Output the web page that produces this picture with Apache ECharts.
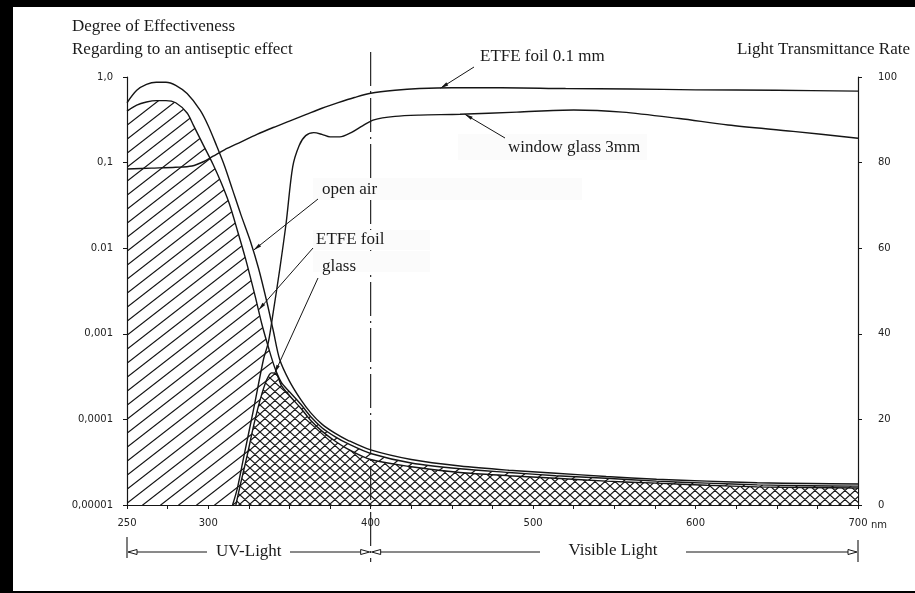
<!DOCTYPE html>
<html><head><meta charset="utf-8">
<script src="https://cdn.jsdelivr.net/npm/echarts@6/dist/echarts.min.js"></script>
<style>html,body{margin:0;padding:0;background:#fff}#c{width:915px;height:593px}</style>
</head><body><div id="c"></div>
<script>
// ---- data (wavelength in nm) ----
const xLabelTicks = [250, 300, 400, 500, 600, 700];
const leftTickLabels = ['0,00001', '0,0001', '0,001', '0.01', '0,1', '1,0']; // 1e-5 .. 1
const rightTicks = [0, 20, 40, 60, 80, 100];

// Degree of effectiveness (left, log axis)
const openAirNm  = [250,256,262,268,274,280,287,295,300,305,310,315,320,326,331,336,340,344,350,357,363,370,378,386,400,425,455,485,514,545,576,607,638,670,700];
const openAirEff = [0.50,0.70,0.82,0.87,0.87,0.80,0.64,0.41,0.27,0.16,0.092,0.048,0.025,0.012,0.0058,0.0024,0.0011,0.0005,0.00028,0.00017,0.00012,0.000088,0.000069,0.000057,0.000044,0.000034,0.0000285,0.0000255,0.0000235,0.0000215,0.00002,0.000019,0.0000182,0.0000178,0.0000176];

const etfeNm  = [250,256,262,268,274,280,287,291,297,303,308,313,318,323,329,333,337,341,345,350,357,363,370,378,386,400,425,455,485,514,545,576,607,638,670,700];
const etfeEff = [0.40,0.47,0.51,0.53,0.53,0.50,0.38,0.27,0.16,0.095,0.058,0.033,0.016,0.0075,0.0027,0.0013,0.0007,0.0004,0.00027,0.00021,0.00015,0.000108,0.00008,0.000063,0.000052,0.00004,0.000031,0.0000265,0.000024,0.000022,0.0000205,0.000019,0.000018,0.0000172,0.0000168,0.0000166];

const glassNm  = [317,320,324,328,332,336,339,342,345,350,357,363,370,378,386,400,425,455,485,514,545,576,607,638,670,700];
const glassEff = [0.00001,0.000018,0.000038,0.000085,0.00017,0.00029,0.00035,0.00034,0.00025,0.00019,0.000135,0.000098,0.000073,0.000056,0.000045,0.000034,0.000028,0.000024,0.000022,0.0000205,0.000019,0.000018,0.000017,0.0000163,0.000016,0.0000158];

// Light transmittance rate (right axis, %)
const etfeTransNm = [250,265,280,290,297,303,310,320,330,340,350,360,370,380,390,400,415,430,450,480,520,560,600,650,700];
const etfeTrans   = [78.5,78.7,78.9,79.2,80.2,81.5,83,84.8,86.6,88.2,89.7,91.2,92.7,94.0,95.2,96.2,96.9,97.3,97.5,97.5,97.3,97.2,97.0,96.9,96.7];

const windowNm    = [315,318,322,328,334,337,340,344,348,352,356,360,365,370,375,381,388,395,402,415,430,455,490,525,555,590,620,660,700];
const windowTrans = [0,4,11.5,22.5,34,38,45,55,66,79,84,86.3,87,86.6,86,86,87,88.6,90,90.8,91.1,91.3,91.8,92.3,91.8,90.3,88.8,87.3,85.7];

const zip = (a, b) => a.map((v, i) => [v, b[i]]);

function hatch(w, h, dirs, bg, lw) {
  const c = document.createElement('canvas');
  c.width = w; c.height = h;
  const g = c.getContext('2d');
  if (bg) { g.fillStyle = bg; g.fillRect(0, 0, w, h); }
  g.strokeStyle = '#151515'; g.lineWidth = lw || 1.1;
  g.beginPath();
  for (let i = -1; i <= 1; i++) for (let j = -1; j <= 1; j++) {
    if (dirs.indexOf('/') >= 0) { g.moveTo(i * w, h + j * h); g.lineTo(w + i * w, j * h); }
    if (dirs.indexOf('\\') >= 0) { g.moveTo(i * w, j * h); g.lineTo(w + i * w, h + j * h); }
  }
  g.stroke();
  return c;
}

const chart = echarts.init(document.getElementById('c'), null, { renderer: 'canvas' });
const INK = '#151515';
const lineBase = { type: 'line', symbol: 'none', smooth: 0.3, silent: true, z: 5,
  lineStyle: { color: INK, width: 1.4 } };

chart.setOption({
  animation: false,
  backgroundColor: '#fff',
  grid: { left: 127, right: 57, top: 77, bottom: 88, outerBoundsMode: 'none', containLabel: false },
  xAxis: {
    type: 'value', min: 250, max: 700, interval: 25,
    axisLine: { show: true, lineStyle: { color: INK, width: 1.2 } },
    axisTick: { show: true, length: 4, lineStyle: { color: INK } },
    splitLine: { show: false },
    axisLabel: { margin: 13, fontFamily: 'DejaVu Sans', fontSize: 10, color: '#222',
      formatter: v => xLabelTicks.indexOf(v) >= 0 ? String(v) : '' }
  },
  yAxis: [{
    type: 'log', logBase: 10, min: 0.00001, max: 1, position: 'left',
    axisLine: { show: true, lineStyle: { color: INK, width: 1.2 } },
    axisTick: { show: true, length: 4, lineStyle: { color: INK } },
    minorTick: { show: false }, splitLine: { show: false },
    axisLabel: { margin: 14, fontFamily: 'DejaVu Sans', fontSize: 10, color: '#222',
      formatter: v => leftTickLabels[Math.round(Math.log10(v)) + 5] || '' }
  }, {
    type: 'value', min: 0, max: 100, interval: 20, position: 'right',
    axisLine: { show: true, lineStyle: { color: INK, width: 1.2 } },
    axisTick: { show: true, length: 4, lineStyle: { color: INK } },
    splitLine: { show: false },
    axisLabel: { margin: 20, fontFamily: 'DejaVu Sans', fontSize: 10, color: '#222',
      formatter: v => rightTicks.indexOf(v) >= 0 ? String(v) : '' }
  }],
  series: [
    { type: 'line', name: 'ETFE area', data: zip(etfeNm, etfeEff), yAxisIndex: 0, symbol: 'none', smooth: 0.3, silent: true, z: 1,
      lineStyle: { width: 0 },
      areaStyle: { origin: 'start', opacity: 1, color: { image: hatch(18, 14, '/', null, 1.2), repeat: 'repeat' } } },
    { type: 'line', name: 'glass area', data: zip(glassNm, glassEff), yAxisIndex: 0, symbol: 'none', smooth: 0.3, silent: true, z: 2,
      lineStyle: { width: 0 },
      areaStyle: { origin: 'start', opacity: 1, color: { image: hatch(10, 9, '/\\', '#ffffff', 1.2), repeat: 'repeat' } } },
    Object.assign({}, lineBase, { name: 'open air', data: zip(openAirNm, openAirEff), yAxisIndex: 0 }),
    Object.assign({}, lineBase, { name: 'ETFE foil', data: zip(etfeNm, etfeEff), yAxisIndex: 0 }),
    Object.assign({}, lineBase, { name: 'glass', data: zip(glassNm, glassEff), yAxisIndex: 0 }),
    Object.assign({}, lineBase, { name: 'ETFE foil 0.1 mm', data: zip(etfeTransNm, etfeTrans), yAxisIndex: 1 }),
    Object.assign({}, lineBase, { name: 'window glass 3mm', data: zip(windowNm, windowTrans), yAxisIndex: 1 })
  ]
});

// ---- annotations positioned through the axes ----
const P = (si, nm, v) => chart.convertToPixel({ seriesIndex: si }, [nm, v]);
const serif = 'Liberation Serif, Times New Roman, serif';
const g = [];
const txt = (x, y, s, size, align) => g.push({ type: 'text', silent: true, z: 20, x, y,
  style: { text: s, font: `${size || 17}px ${serif}`, fill: '#1a1a1a', align: align || 'left', verticalAlign: 'middle' } });
const seg = (x1, y1, x2, y2, w, dash, z) => g.push({ type: 'line', silent: true, z: z || 19,
  shape: { x1, y1, x2, y2 }, style: { stroke: INK, lineWidth: w || 1, lineDash: dash || null } });
const box = (x1, y1, x2, y2) => g.push({ type: 'rect', silent: true, z: 18.5,
  shape: { x: x1, y: y1, width: x2 - x1, height: y2 - y1 }, style: { fill: '#fbfbfb' } });
function leader(x1, y1, tip) {
  const [x2, y2] = tip;
  seg(x1, y1, x2, y2, 1);
  const a = Math.atan2(y2 - y1, x2 - x1), L = 8, W = 1.8;
  const bx = x2 - L * Math.cos(a), by = y2 - L * Math.sin(a);
  g.push({ type: 'polygon', silent: true, z: 19, shape: { points: [[x2, y2],
    [bx + W * Math.sin(a), by - W * Math.cos(a)], [bx - W * Math.sin(a), by + W * Math.cos(a)]] },
    style: { fill: INK } });
}
function openHead(x, y, dir) { // dir -1 points left, +1 points right
  g.push({ type: 'polygon', silent: true, z: 19,
    shape: { points: [[x, y], [x - dir * 9, y - 2.5], [x - dir * 9, y + 2.5]] },
    style: { fill: '#fff', stroke: INK, lineWidth: 1 } });
}

// frame
g.push({ type: 'rect', silent: true, z: 30, shape: { x: 0, y: 0, width: 13, height: 593 }, style: { fill: '#000' } });
g.push({ type: 'rect', silent: true, z: 30, shape: { x: 0, y: 0, width: 915, height: 7 }, style: { fill: '#000' } });
g.push({ type: 'rect', silent: true, z: 30, shape: { x: 0, y: 591, width: 915, height: 2 }, style: { fill: '#000' } });

// titles
txt(72, 27, 'Degree of Effectiveness');
txt(72, 50, 'Regarding to an antiseptic effect');
txt(910, 50, 'Light Transmittance Rate', 17, 'right');

// x = 400 nm boundary (dash-dot)
const x400 = P(2, 400, 1)[0];
seg(x400, 52, x400, 562, 1.1, [34, 5, 2, 5], 18);

// label backing boxes (as in the scanned figure)
box(313, 178, 582, 200);
box(313, 230, 430, 250);
box(313, 251, 430, 272);
box(458, 134, 647, 160);

// curve labels
txt(480, 57, 'ETFE foil 0.1 mm');
leader(474, 67, P(5, 443, 97.4));
txt(508, 148, 'window glass 3mm');
leader(505, 138, P(6, 458, 91.3));
txt(322, 190, 'open air');
leader(318, 199, P(2, 328, 0.0095));
txt(316, 240, 'ETFE foil');
leader(313, 248, P(3, 331, 0.0019));
txt(322, 267, 'glass');
leader(318, 278, P(4, 341, 0.00035));

// "nm" unit after 700
const x700 = P(2, 700, 1)[0], x250 = P(2, 250, 1)[0];
g.push({ type: 'text', silent: true, z: 20, x: x700 + 13, y: 525,
  style: { text: 'nm', font: '10px DejaVu Sans', fill: '#222', align: 'left', verticalAlign: 'middle' } });

// UV / Visible ranges
const ay = 552;
seg(x250, 537, x250, 558, 1.1);
seg(x700, 540, x700, 562, 1.1);
seg(x250 + 9, ay, 207, ay, 1);
seg(290, ay, x400 - 10, ay, 1);
seg(x400 + 10, ay, 540, ay, 1);
seg(686, ay, x700 - 10, ay, 1);
openHead(x250 + 1, ay, -1);
openHead(x400 - 1, ay, 1);
openHead(x400 + 1, ay, -1);
openHead(x700 - 1, ay, 1);
txt((x250 + x400) / 2, ay, 'UV-Light', 17, 'center');
txt(613, ay - 1, 'Visible Light', 17, 'center');

chart.setOption({ graphic: { elements: g } });
</script></body></html>
